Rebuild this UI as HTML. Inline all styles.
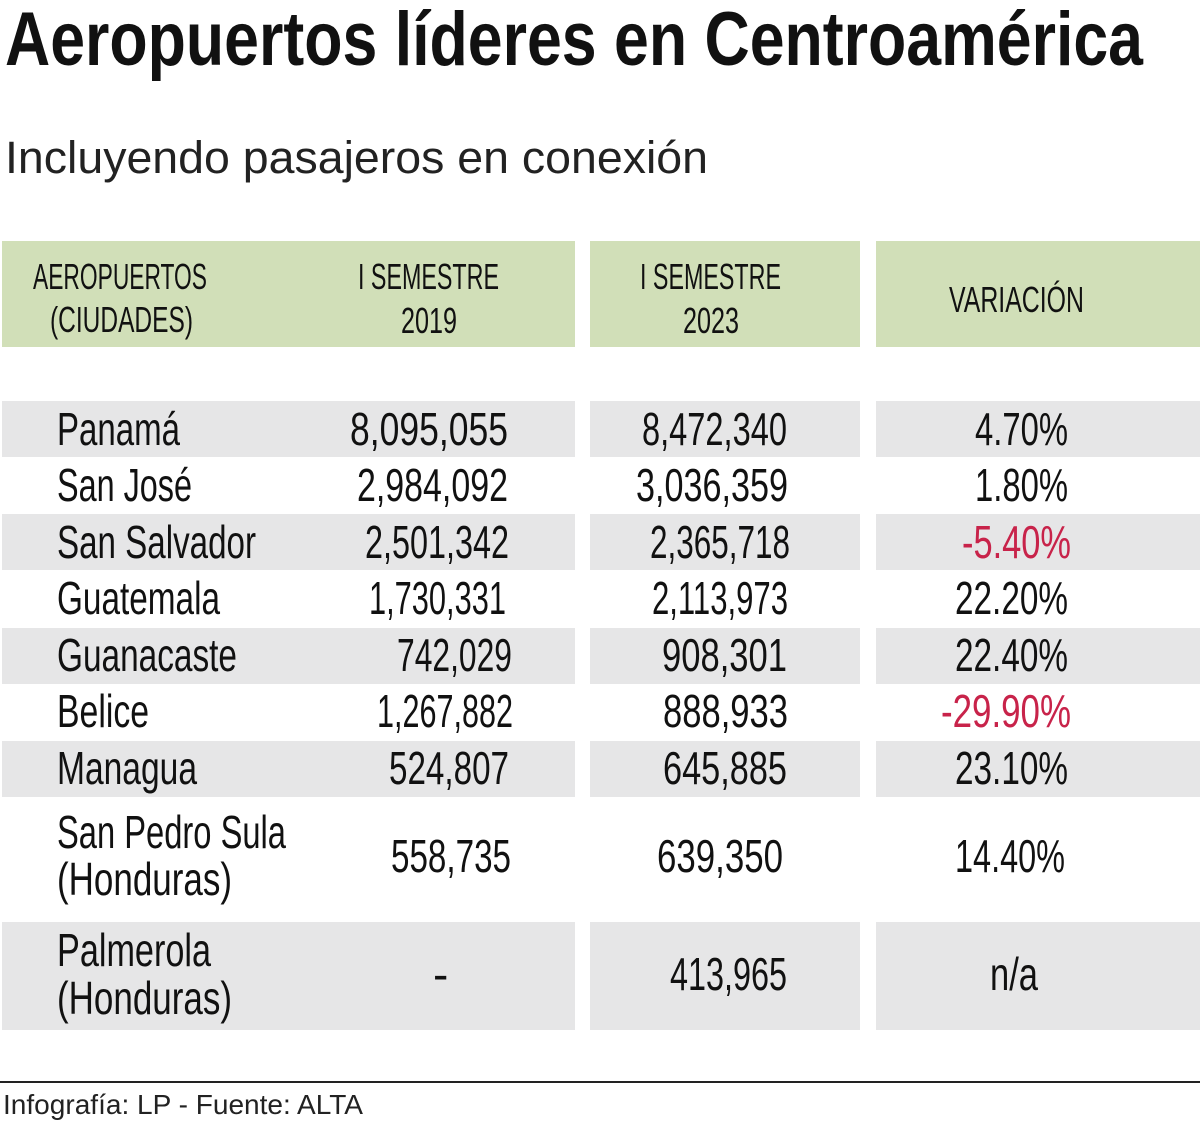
<!DOCTYPE html>
<html><head><meta charset="utf-8"><style>
html,body{margin:0;padding:0;background:#fff;}
svg{display:block}
text{font-family:"Liberation Sans Narrow","Liberation Sans",sans-serif;fill:#111}
</style></head><body>
<svg width="1200" height="1121" viewBox="0 0 1200 1121" xmlns="http://www.w3.org/2000/svg">
<rect width="1200" height="1121" fill="#fff"/>
<text x="5" y="65" font-size="76" font-weight="bold" textLength="1138" lengthAdjust="spacingAndGlyphs">Aeropuertos líderes en Centroamérica</text>
<text x="5" y="173" font-size="45" fill="#222" textLength="703" lengthAdjust="spacingAndGlyphs" style="fill:#222">Incluyendo pasajeros en conexión</text>

<rect x="2" y="241" width="573" height="106" fill="#d1dfb8"/>
<rect x="590" y="241" width="270" height="106" fill="#d1dfb8"/>
<rect x="876" y="241" width="324" height="106" fill="#d1dfb8"/>
<g font-size="36">
<text x="33" y="289" textLength="174" lengthAdjust="spacingAndGlyphs">AEROPUERTOS</text>
<text x="50" y="332" textLength="143" lengthAdjust="spacingAndGlyphs">(CIUDADES)</text>
<text x="358" y="289" textLength="141" lengthAdjust="spacingAndGlyphs">I SEMESTRE</text>
<text x="401" y="333" textLength="56" lengthAdjust="spacingAndGlyphs">2019</text>
<text x="640" y="289" textLength="141" lengthAdjust="spacingAndGlyphs">I SEMESTRE</text>
<text x="683" y="333" textLength="56" lengthAdjust="spacingAndGlyphs">2023</text>
<text x="949" y="312" textLength="135" lengthAdjust="spacingAndGlyphs">VARIACIÓN</text>
</g>

<g fill="#e6e6e7">
<rect x="2" y="401" width="573" height="56"/><rect x="590" y="401" width="270" height="56"/><rect x="876" y="401" width="324" height="56"/>
<rect x="2" y="514" width="573" height="56"/><rect x="590" y="514" width="270" height="56"/><rect x="876" y="514" width="324" height="56"/>
<rect x="2" y="628" width="573" height="56"/><rect x="590" y="628" width="270" height="56"/><rect x="876" y="628" width="324" height="56"/>
<rect x="2" y="741" width="573" height="56"/><rect x="590" y="741" width="270" height="56"/><rect x="876" y="741" width="324" height="56"/>
<rect x="2" y="922" width="573" height="108"/><rect x="590" y="922" width="270" height="108"/><rect x="876" y="922" width="324" height="108"/>
</g>

<g font-size="46">
<text x="57" y="445" textLength="123" lengthAdjust="spacingAndGlyphs">Panamá</text>
<text x="350" y="445" textLength="158" lengthAdjust="spacingAndGlyphs">8,095,055</text>
<text x="642" y="445" textLength="145" lengthAdjust="spacingAndGlyphs">8,472,340</text>
<text x="975" y="445" textLength="93" lengthAdjust="spacingAndGlyphs">4.70%</text>

<text x="57" y="501" textLength="135" lengthAdjust="spacingAndGlyphs">San José</text>
<text x="357" y="501" textLength="151" lengthAdjust="spacingAndGlyphs">2,984,092</text>
<text x="636" y="501" textLength="152" lengthAdjust="spacingAndGlyphs">3,036,359</text>
<text x="975" y="501" textLength="93" lengthAdjust="spacingAndGlyphs">1.80%</text>

<text x="57" y="558" textLength="199" lengthAdjust="spacingAndGlyphs">San Salvador</text>
<text x="365" y="558" textLength="144" lengthAdjust="spacingAndGlyphs">2,501,342</text>
<text x="650" y="558" textLength="140" lengthAdjust="spacingAndGlyphs">2,365,718</text>
<text x="962" y="558" textLength="109" lengthAdjust="spacingAndGlyphs" style="fill:#c8234a">-5.40%</text>

<text x="57" y="614" textLength="163" lengthAdjust="spacingAndGlyphs">Guatemala</text>
<text x="369" y="614" textLength="137" lengthAdjust="spacingAndGlyphs">1,730,331</text>
<text x="652" y="614" textLength="136" lengthAdjust="spacingAndGlyphs">2,113,973</text>
<text x="955" y="614" textLength="113" lengthAdjust="spacingAndGlyphs">22.20%</text>

<text x="57" y="671" textLength="180" lengthAdjust="spacingAndGlyphs">Guanacaste</text>
<text x="397" y="671" textLength="115" lengthAdjust="spacingAndGlyphs">742,029</text>
<text x="662" y="671" textLength="125" lengthAdjust="spacingAndGlyphs">908,301</text>
<text x="955" y="671" textLength="113" lengthAdjust="spacingAndGlyphs">22.40%</text>

<text x="57" y="727" textLength="92" lengthAdjust="spacingAndGlyphs">Belice</text>
<text x="377" y="727" textLength="136" lengthAdjust="spacingAndGlyphs">1,267,882</text>
<text x="663" y="727" textLength="125" lengthAdjust="spacingAndGlyphs">888,933</text>
<text x="941" y="727" textLength="130" lengthAdjust="spacingAndGlyphs" style="fill:#c8234a">-29.90%</text>

<text x="57" y="784" textLength="140" lengthAdjust="spacingAndGlyphs">Managua</text>
<text x="389" y="784" textLength="120" lengthAdjust="spacingAndGlyphs">524,807</text>
<text x="663" y="784" textLength="124" lengthAdjust="spacingAndGlyphs">645,885</text>
<text x="955" y="784" textLength="113" lengthAdjust="spacingAndGlyphs">23.10%</text>

<text x="57" y="848" textLength="229" lengthAdjust="spacingAndGlyphs">San Pedro Sula</text>
<text x="57" y="895" textLength="175" lengthAdjust="spacingAndGlyphs">(Honduras)</text>
<text x="391" y="872" textLength="120" lengthAdjust="spacingAndGlyphs">558,735</text>
<text x="657" y="872" textLength="126" lengthAdjust="spacingAndGlyphs">639,350</text>
<text x="955" y="872" textLength="110" lengthAdjust="spacingAndGlyphs">14.40%</text>

<text x="57" y="966" textLength="154" lengthAdjust="spacingAndGlyphs">Palmerola</text>
<text x="57" y="1014" textLength="175" lengthAdjust="spacingAndGlyphs">(Honduras)</text>
<text x="433" y="990">-</text>
<text x="670" y="990" textLength="117" lengthAdjust="spacingAndGlyphs">413,965</text>
<text x="990" y="990" textLength="48" lengthAdjust="spacingAndGlyphs">n/a</text>
</g>

<rect x="0" y="1081" width="1200" height="2" fill="#222"/>
<text x="3" y="1114" font-size="28" textLength="360" lengthAdjust="spacingAndGlyphs" style="fill:#222">Infografía: LP - Fuente: ALTA</text>
</svg>
</body></html>
